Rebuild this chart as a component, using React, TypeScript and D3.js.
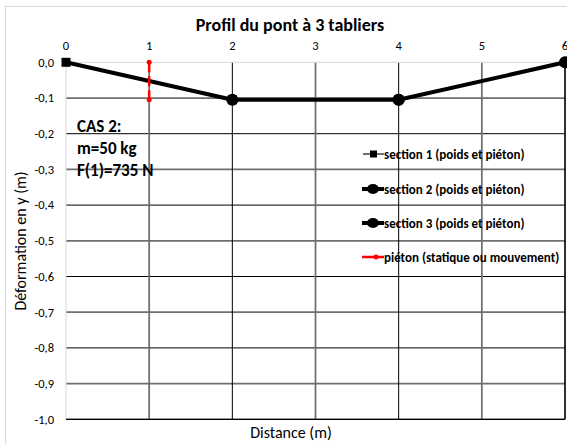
import React from "react";
import * as d3 from "d3";

const xTicks = [0, 1, 2, 3, 4, 5, 6];
const yTicks = [0, -0.1, -0.2, -0.3, -0.4, -0.5, -0.6, -0.7, -0.8, -0.9, -1.0];

const section1X = [0, 2];
const section1Y = [0, -0.105];
const section2X = [2, 4];
const section2Y = [-0.105, -0.105];
const section3X = [4, 6];
const section3Y = [-0.105, 0];
const pietonX = [1, 1];
const pietonY = [0, -0.105];

const legendLabels = [
  "section 1 (poids et piéton)",
  "section 2 (poids et piéton)",
  "section 3 (poids et piéton)",
  "piéton (statique ou mouvement)",
];
const caseLines = ["CAS 2:", "m=50 kg", "F(1)=735 N"];

const W = 567;
const H = 444;
const FONT = "Carlito, Lato, 'Open Sans', sans-serif";

export default function App() {
  const x = d3.scaleLinear().domain([0, 6]).range([66, 565]);
  const y = d3.scaleLinear().domain([-1, 0]).range([419.3, 62.3]);
  const line = d3
    .line<[number, number]>()
    .x((d) => x(d[0]))
    .y((d) => y(d[1]));
  const pts = (xs: number[], ys: number[]) =>
    xs.map((v, i) => [v, ys[i]] as [number, number]);
  const s1 = pts(section1X, section1Y);
  const s2 = pts(section2X, section2Y);
  const s3 = pts(section3X, section3Y);
  const pp = pts(pietonX, pietonY);
  const fmt = (v: number) => d3.format(".1f")(v).replace(".", ",").replace("−", "-");

  const legendY = [154, 189, 223, 257];

  return (
    <svg
      width={W}
      height={H}
      style={{ position: "absolute", left: 0, top: 0, background: "#fff" }}
    >
      <rect x={0} y={0} width={W} height={H} fill="#fff" />
      <rect x={5.5} y={6.5} width={W} height={H} fill="#fff" stroke="#d9d9d9" strokeWidth={1} />
      {/* gridlines */}
      {yTicks.map((t, i) => {
        const gray = i % 2 === 1;
        if (i === 0) return null;
        return (
          <line
            key={"gy" + i}
            x1={x(0)}
            x2={x(6)}
            y1={y(t)}
            y2={y(t)}
            stroke={gray ? "#6f6f6f" : "#000"}
            strokeWidth={gray ? 1.75 : 1}
          />
        );
      })}
      {xTicks.map((t, i) => {
        if (i === 0) return null;
        const gray = i % 2 === 1;
        return (
          <line
            key={"gx" + i}
            x1={x(t)}
            x2={x(t)}
            y1={y(0)}
            y2={y(-1)}
            stroke={gray ? "#6f6f6f" : "#000"}
            strokeWidth={gray ? 1.75 : 1}
          />
        );
      })}
      <line x1={x(0)} x2={x(6)} y1={y(0)} y2={y(0)} stroke="#d9d9d9" strokeWidth={1} />
      <line x1={x(0)} x2={x(0)} y1={y(0)} y2={y(-1)} stroke="#d9d9d9" strokeWidth={1} />
      <line x1={x(0)} x2={x(6)} y1={y(-1)} y2={y(-1)} stroke="#000" strokeWidth={1.25} />
      <line x1={x(6)} x2={x(6)} y1={y(0)} y2={y(-1)} stroke="#000" strokeWidth={1.25} />

      {/* tick labels */}
      {xTicks.map((t) => (
        <text
          key={"xt" + t}
          x={x(t)}
          y={50}
          textAnchor="middle"
          fontFamily={FONT}
          fontSize={12.5}
          fill="#000"
        >
          {t}
        </text>
      ))}
      {yTicks.map((t) => (
        <text
          key={"yt" + t}
          x={54}
          y={y(t)}
          dy="0.35em"
          textAnchor="end"
          fontFamily={FONT}
          fontSize={12.5}
          fill="#000"
        >
          {fmt(t)}
        </text>
      ))}

      {/* title and axis titles */}
      <text x={290} y={31} textAnchor="middle" fontFamily={FONT} fontWeight="bold" fontSize={18}>
        Profil du pont à 3 tabliers
      </text>
      <text x={291} y={438} textAnchor="middle" fontFamily={FONT} fontSize={16}>
        Distance (m)
      </text>
      <text
        transform="translate(26,241) rotate(-90)"
        textAnchor="middle"
        fontFamily={FONT}
        fontSize={16}
      >
        Déformation en y (m)
      </text>

      {/* case annotation */}
      {caseLines.map((s, i) => (
        <text
          key={"c" + i}
          x={77}
          y={132 + i * 22}
          fontFamily={FONT}
          fontWeight="bold"
          fontSize={17}
          fill="#000"
        >
          {s}
        </text>
      ))}

      {/* series */}
      <path d={line(s1) || ""} fill="none" stroke="#000" strokeWidth={4} />
      <path d={line(s2) || ""} fill="none" stroke="#000" strokeWidth={4} />
      <path d={line(s3) || ""} fill="none" stroke="#000" strokeWidth={4} />
      {s1.map((p, i) => (
        <rect key={"m1" + i} x={x(p[0]) - 4.5} y={y(p[1]) - 4.5} width={9} height={9} fill="#000" />
      ))}
      {s2.map((p, i) => (
        <circle key={"m2" + i} cx={x(p[0])} cy={y(p[1])} r={6} fill="#000" />
      ))}
      {s3.map((p, i) => (
        <circle key={"m3" + i} cx={x(p[0])} cy={y(p[1])} r={6} fill="#000" />
      ))}
      <path
        d={line(pp) || ""}
        fill="none"
        stroke="#ff0000"
        strokeWidth={2.5}
        strokeDasharray="10,4"
      />
      {pp.map((p, i) => (
        <circle key={"mp" + i} cx={x(p[0])} cy={y(p[1])} r={2.5} fill="#ff0000" />
      ))}

      {/* legend */}
      <g>
        <line x1={363} x2={384} y1={legendY[0]} y2={legendY[0]} stroke="#404040" strokeWidth={1.5} />
        <rect x={370} y={legendY[0] - 3.5} width={7} height={7} fill="#000" />
        <line x1={362} x2={384} y1={legendY[1]} y2={legendY[1]} stroke="#000" strokeWidth={4} />
        <ellipse cx={373} cy={legendY[1]} rx={6} ry={5} fill="#000" />
        <line x1={362} x2={384} y1={legendY[2]} y2={legendY[2]} stroke="#000" strokeWidth={4} />
        <ellipse cx={373} cy={legendY[2]} rx={6} ry={5} fill="#000" />
        <line x1={362} x2={384} y1={legendY[3]} y2={legendY[3]} stroke="#ff0000" strokeWidth={2.5} />
        <circle cx={376} cy={legendY[3]} r={2.5} fill="#ff0000" />
        {legendLabels.map((s, i) => (
          <text
            key={"l" + i}
            x={384}
            y={legendY[i]}
            dy="0.35em"
            fontFamily={FONT}
            fontWeight="bold"
            fontSize={13}
            fill="#000"
          >
            {s}
          </text>
        ))}
      </g>
    </svg>
  );
}
